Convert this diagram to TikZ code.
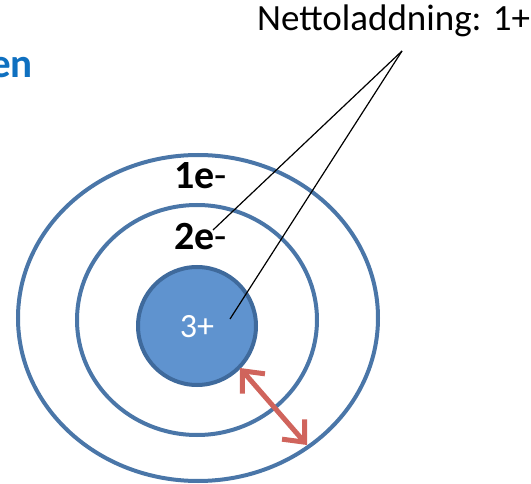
\documentclass[tikz,border=0pt]{standalone}
\usepackage{fontspec}
\setmainfont{Carlito}
\usetikzlibrary{arrows.meta}
\definecolor{ringblue}{HTML}{4A76A8}
\definecolor{coreblue}{HTML}{5F93CF}
\definecolor{coreedge}{HTML}{3F6A9C}
\definecolor{arrowred}{HTML}{D0645C}
\definecolor{titleblue}{HTML}{0F70C0}
\tikzset{
  ring/.style={draw=ringblue, line width=4pt},
  shell/.style={inner sep=0pt, font=\fontsize{40}{44}\selectfont\bfseries},
  pointer/.style={draw=black, line width=1.2pt},
  mybarb/.tip={Straight Barb[length=17pt,width=30pt]},
}
\begin{document}
\begin{tikzpicture}[x=1pt,y=-1pt]
\useasboundingbox (0,0) rectangle (531,484);
\draw[ring] (198,318) ellipse [x radius=180, y radius=163];
\draw[ring] (197,320) ellipse [x radius=120, y radius=115];
\node[circle, fill=coreblue, draw=coreedge, line width=4pt, minimum size=118pt, inner sep=0pt] (core) at (197,326) {};
\node[inner sep=0pt, text=white, font=\fontsize{34}{38}\selectfont] (charge) at (197,327) {3+};
\node[shell, anchor=west] (s1) at (174,176) {1e\mdseries-};
\node[shell, anchor=west] (s2) at (174,237) {2e\mdseries-};
\node[inner sep=0pt, anchor=base west, font=\fontsize{37}{42}\selectfont] (net) at (257,31) {Nettoladdning: 1+};
\node[inner sep=0pt, anchor=base east, text=titleblue, font=\fontsize{41}{46}\selectfont\bfseries] (title) at (33,78) {en};
\coordinate (apex) at (402,51);
\coordinate (e2) at (213,230);
\coordinate (cin) at (230,319);
\draw[pointer] (apex) -- (e2);
\draw[pointer] (apex) -- (cin);
\coordinate (a1) at (240,368);
\coordinate (a2) at (307,445);
\draw[draw=arrowred, line width=5pt, {mybarb}-{mybarb}] (a1) -- (a2);
\end{tikzpicture}
\end{document}
